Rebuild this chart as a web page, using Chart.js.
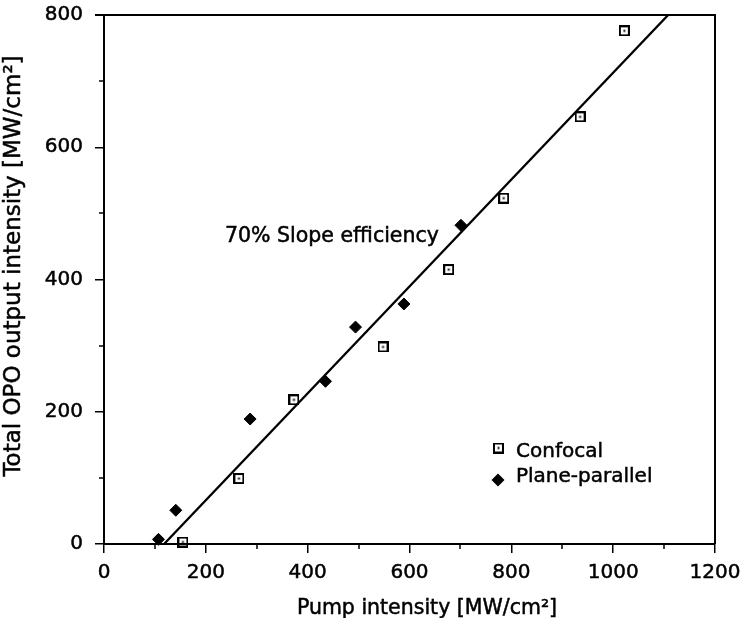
<!DOCTYPE html>
<html>
<head>
<meta charset="utf-8">
<script src="https://cdn.jsdelivr.net/npm/chart.js@4/dist/chart.umd.min.js"></script>
<style>
  html, body { margin: 0; padding: 0; background: #fff; }
  #wrap { width: 742px; height: 618px; }
</style>
</head>
<body>
<div id="wrap"><canvas id="c" width="742" height="618"></canvas></div>
<script>
// Pump intensity [MW/cm²] vs total OPO output intensity [MW/cm²]
const confocalX = [155, 265, 373, 548, 677, 785, 935, 1022];
const confocalY = [3, 99, 218, 298, 415, 523, 646, 776];
const planeX = [107, 141, 287, 435, 494, 589, 701];
const planeY = [7, 51, 189, 246, 328, 363, 482];
// linear fit, 70% slope efficiency
const fitX = [118, 1108];
const fitY = [0, 800];
const xTicks = [0, 200, 400, 600, 800, 1000, 1200];
const yTicks = [0, 200, 400, 600, 800];
const xMinorTicks = [100, 300, 500, 700, 900, 1100];
const yMinorTicks = [100, 300, 500, 700];

const FONT = '"DejaVu Sans", sans-serif';
const INK = 0.5; // slight stroke so the lettering reads as dark as printed text

// hollow square with a centre dot
function squareDot() {
  const cv = document.createElement('canvas');
  cv.width = 11; cv.height = 11;
  const g = cv.getContext('2d');
  g.strokeStyle = '#000';
  g.lineWidth = 2;
  g.strokeRect(1, 1, 9, 9);
  g.fillStyle = '#000';
  g.fillRect(4.5, 4.5, 2, 2);
  return cv;
}
const squareImg = squareDot();

const zip = (xs, ys) => xs.map((x, i) => ({ x: x, y: ys[i] }));

const noPad = s => { s.paddingTop = 0; s.paddingBottom = 0; s.paddingLeft = 0; s.paddingRight = 0; };

function inkText(ctx, text, x, y) {
  ctx.fillText(text, x, y);
  ctx.lineWidth = INK;
  ctx.strokeText(text, x, y);
}

const decor = {
  id: 'decor',
  afterDraw(chart) {
    const ctx = chart.ctx;
    const a = chart.chartArea;
    const sx = chart.scales.x, sy = chart.scales.y;
    ctx.save();
    ctx.strokeStyle = '#000';
    ctx.lineWidth = 2;
    // frame: top and right
    ctx.beginPath();
    ctx.moveTo(a.left - 9, a.top);
    ctx.lineTo(a.right, a.top);
    ctx.lineTo(a.right, a.bottom);
    ctx.stroke();
    // minor ticks
    ctx.lineWidth = 1.5;
    ctx.beginPath();
    xMinorTicks.forEach(v => {
      const px = Math.round(sx.getPixelForValue(v));
      ctx.moveTo(px, a.bottom);
      ctx.lineTo(px, a.bottom + 5);
    });
    yMinorTicks.forEach(v => {
      const py = Math.round(sy.getPixelForValue(v));
      ctx.moveTo(a.left, py);
      ctx.lineTo(a.left - 5, py);
    });
    ctx.stroke();

    ctx.fillStyle = '#000';
    // annotation
    ctx.font = '20.5px ' + FONT;
    ctx.textAlign = 'left';
    ctx.textBaseline = 'alphabetic';
    inkText(ctx, '70% Slope efficiency', 225, 242);

    // legend
    ctx.font = '20px ' + FONT;
    ctx.drawImage(squareImg, 493, 442.5);
    inkText(ctx, 'Confocal', 516, 457);
    ctx.beginPath();
    ctx.moveTo(498, 473.5);
    ctx.lineTo(504.5, 480);
    ctx.lineTo(498, 486.5);
    ctx.lineTo(491.5, 480);
    ctx.closePath();
    ctx.fill();
    inkText(ctx, 'Plane-parallel', 516, 482);

    // axis titles
    ctx.font = '20.5px ' + FONT;
    ctx.textAlign = 'center';
    inkText(ctx, 'Pump intensity [MW/cm²]', 427, 614);
    ctx.save();
    ctx.translate(20, 266);
    ctx.rotate(-Math.PI / 2);
    ctx.font = '23px ' + FONT;
    inkText(ctx, 'Total OPO output intensity [MW/cm²]', 0, 0);
    ctx.restore();
    ctx.restore();
  }
};

new Chart(document.getElementById('c'), {
  type: 'scatter',
  data: {
    datasets: [
      {
        label: 'Confocal',
        data: zip(confocalX, confocalY),
        pointStyle: squareImg,
        pointRadius: 5,
        clip: false
      },
      {
        label: 'Plane-parallel',
        data: zip(planeX, planeY),
        pointStyle: 'rectRot',
        pointRadius: 6,
        backgroundColor: '#000',
        borderColor: '#000',
        borderWidth: 1,
        clip: false
      },
      {
        label: 'fit',
        type: 'line',
        data: zip(fitX, fitY),
        borderColor: '#000',
        borderWidth: 2.3,
        pointRadius: 0,
        fill: false
      }
    ]
  },
  options: {
    responsive: false,
    animation: false,
    events: [],
    layout: { padding: { top: 15, right: 27, left: 0, bottom: 0 } },
    plugins: {
      legend: { display: false },
      tooltip: { enabled: false }
    },
    scales: {
      x: {
        type: 'linear',
        min: 0,
        max: 1200,
        afterBuildTicks: s => { s.ticks = xTicks.map(v => ({ value: v })); },
        afterFit: s => { s.height = 74; noPad(s); },
        grid: { drawOnChartArea: false, drawTicks: true, tickLength: 9, color: '#000', lineWidth: 1.5 },
        border: { display: true, color: '#000', width: 2 },
        ticks: { color: '#000', font: { family: FONT, size: 20 }, padding: 8, maxRotation: 0,
                 textStrokeColor: '#000', textStrokeWidth: INK,
                 callback: v => String(v) }
      },
      y: {
        type: 'linear',
        min: 0,
        max: 800,
        afterBuildTicks: s => { s.ticks = yTicks.map(v => ({ value: v })); },
        afterFit: s => { s.width = 104; noPad(s); },
        grid: { drawOnChartArea: false, drawTicks: true, tickLength: 9, color: '#000', lineWidth: 1.5 },
        border: { display: true, color: '#000', width: 2 },
        ticks: { color: '#000', font: { family: FONT, size: 20 }, padding: 12,
                 textStrokeColor: '#000', textStrokeWidth: INK,
                 callback: v => String(v) }
      }
    }
  },
  plugins: [decor]
});
</script>
</body>
</html>
